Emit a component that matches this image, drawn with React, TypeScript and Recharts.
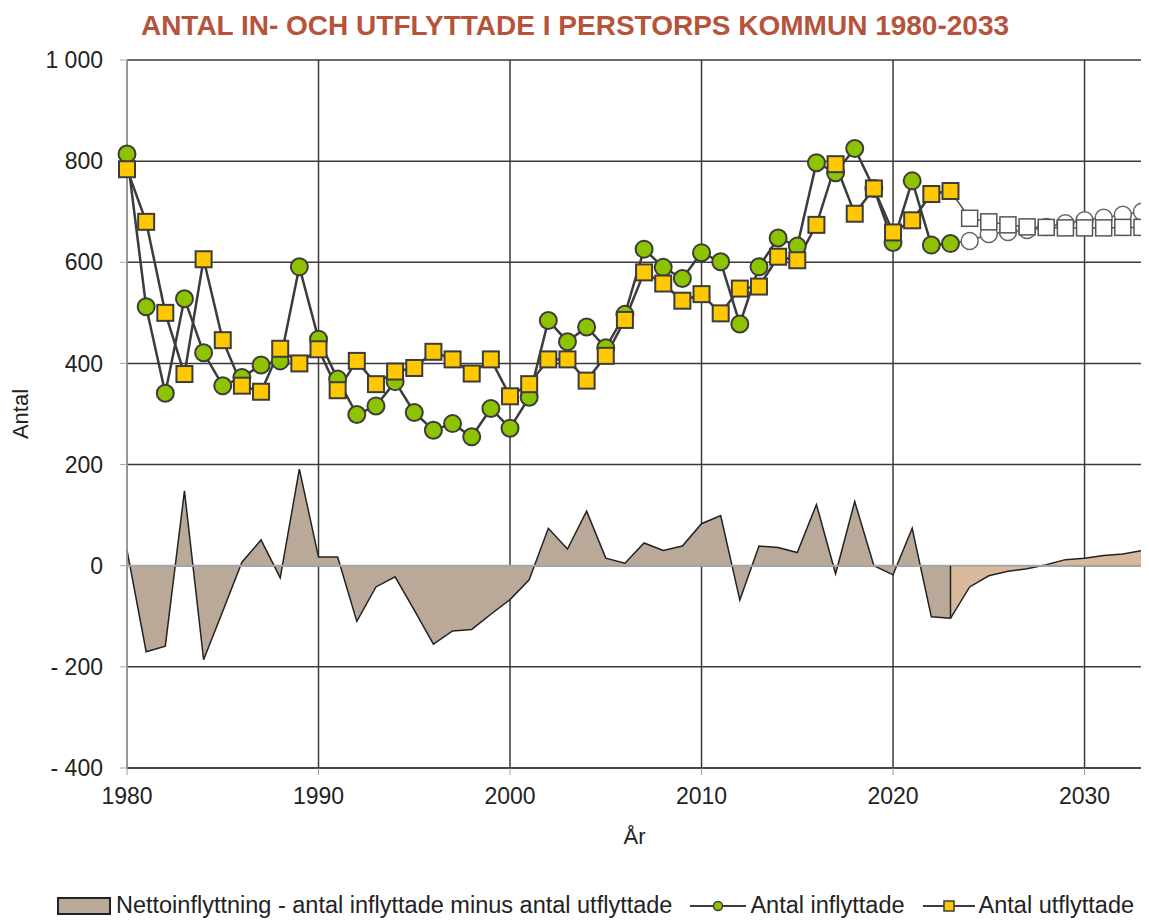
import {
  ComposedChart,
  Area,
  Line,
  XAxis,
  YAxis,
  CartesianGrid,
  ReferenceLine,
} from 'recharts';

const years = [
  1980, 1981, 1982, 1983, 1984, 1985, 1986, 1987, 1988, 1989,
  1990, 1991, 1992, 1993, 1994, 1995, 1996, 1997, 1998, 1999,
  2000, 2001, 2002, 2003, 2004, 2005, 2006, 2007, 2008, 2009,
  2010, 2011, 2012, 2013, 2014, 2015, 2016, 2017, 2018, 2019,
  2020, 2021, 2022, 2023, 2024, 2025, 2026, 2027, 2028, 2029,
  2030, 2031, 2032, 2033,
];

// Utfall 1980-2023
const inflyttade = [
  814, 512, 341, 528, 421, 356, 372, 397, 405, 591,
  448, 369, 299, 316, 364, 303, 268, 281, 255, 311,
  272, 333, 485, 443, 472, 431, 497, 626, 590, 568,
  619, 601, 478, 591, 648, 632, 797, 777, 825, 746,
  639, 761, 634, 637,
];
const utflyttade = [
  784, 680, 500, 379, 606, 446, 356, 344, 429, 400,
  428, 347, 405, 359, 384, 391, 423, 408, 380, 408,
  335, 359, 408, 408, 366, 415, 486, 580, 558, 524,
  537, 499, 548, 552, 611, 604, 674, 794, 696, 746,
  659, 683, 735, 741,
];
const netto = [
  31, -170, -159, 148, -186, -90, 7, 51, -24, 191,
  17, 17, -110, -42, -22, -88, -155, -129, -126, -96,
  -67, -28, 74, 33, 108, 15, 5, 45, 30, 39,
  83, 99, -68, 39, 36, 26, 121, -16, 127, 0,
  -18, 74, -101, -104,
];

// Prognos 2024-2033
const inflyttadeProg = [642, 656, 660, 664, 670, 677, 683, 688, 694, 700];
const utflyttadeProg = [687, 680, 674, 670, 669, 668, 668, 668, 669, 669];
const nettoProg = [-42, -20, -11, -6, 2, 12, 15, 20, 23, 30];

const xTicks = [1980, 1990, 2000, 2010, 2020, 2030];
const yTicks = [-400, -200, 0, 200, 400, 600, 800, 1000];

const lastHist = inflyttade.length - 1;
const lastHistYear = years[lastHist];

const rows = years.map((year, i) => {
  const p = i - inflyttade.length; // index in prognosis arrays
  const hist = i <= lastHist;
  return {
    year,
    infl: hist ? inflyttade[i] : null,
    utfl: hist ? utflyttade[i] : null,
    net: hist ? netto[i] : null,
    inflP: p >= 0 ? inflyttadeProg[p] : p === -1 ? inflyttade[i] : null,
    utflP: p >= 0 ? utflyttadeProg[p] : p === -1 ? utflyttade[i] : null,
    netP: p >= 0 ? nettoProg[p] : p === -1 ? netto[i] : null,
  };
});

const FONT = "'Liberation Sans', Arial, sans-serif";
const NARROW = "'Liberation Sans Narrow', 'Liberation Sans', Arial, sans-serif";
const GREEN = '#8DC300';
const GOLD = '#FFC800';
const EDGE = '#3c3c3c';
const GRID = '#3a3a3a';

const fmtY = (v: number) => {
  if (v === 1000) return '1 000';
  if (v < 0) return `- ${Math.abs(v)}`;
  return String(v);
};

function circleDot(fill: string, stroke: string, sw: number, prog: boolean) {
  return (props: any) => {
    const { cx, cy, payload, index } = props;
    if (cx == null || cy == null) return null;
    if (prog && payload && payload.year <= lastHistYear) return null;
    return <circle key={`c${index}`} cx={cx} cy={cy} r={8.5} fill={fill} stroke={stroke} strokeWidth={sw} />;
  };
}

function squareDot(fill: string, stroke: string, sw: number, prog: boolean) {
  return (props: any) => {
    const { cx, cy, payload, index } = props;
    if (cx == null || cy == null) return null;
    if (prog && payload && payload.year <= lastHistYear) return null;
    return (
      <rect key={`s${index}`} x={cx - 8} y={cy - 8} width={16} height={16} fill={fill} stroke={stroke} strokeWidth={sw} />
    );
  };
}

function LegendRow() {
  const item = { display: 'flex', alignItems: 'center' } as const;
  return (
    <div
      style={{
        position: 'absolute',
        top: 884,
        left: 17,
        width: 1141,
        display: 'flex',
        justifyContent: 'center',
        gap: 18,
        fontFamily: NARROW,
        fontSize: 23.5,
        color: '#222',
      }}
    >
      <div style={item}>
        <svg width={54} height={20} style={{ marginRight: 5 }}>
          <rect x={1} y={2} width={52} height={16} fill="#BAA999" stroke="#222" strokeWidth={2} />
        </svg>
        Nettoinflyttning - antal inflyttade minus antal utflyttade
      </div>
      <div style={item}>
        <svg width={56} height={20} style={{ marginRight: 4 }}>
          <line x1={0} y1={10} x2={56} y2={10} stroke={EDGE} strokeWidth={2} />
          <circle cx={28} cy={10} r={4.5} fill={GREEN} stroke={EDGE} strokeWidth={1.5} />
        </svg>
        Antal inflyttade
      </div>
      <div style={item}>
        <svg width={52} height={20} style={{ marginRight: 4 }}>
          <line x1={0} y1={10} x2={52} y2={10} stroke={EDGE} strokeWidth={2} />
          <rect x={21} y={5} width={10} height={10} fill={GOLD} stroke={EDGE} strokeWidth={1.5} />
        </svg>
        Antal utflyttade
      </div>
    </div>
  );
}

export default function App() {
  return (
    <div style={{ position: 'relative', width: 1141, height: 913, background: 'white' }}>
      <div
        style={{
          position: 'absolute',
          top: 1,
          left: 0,
          width: 1134,
          textAlign: 'center',
          fontFamily: NARROW,
          fontWeight: 'bold',
          fontSize: 28,
          lineHeight: '34px',
          color: '#B5533B',
        }}
      >
        ANTAL IN- OCH UTFLYTTADE I PERSTORPS KOMMUN 1980-2033
      </div>
      <div style={{ position: 'absolute', top: 0, left: 0 }}>
        <ComposedChart
          width={1141}
          height={860}
          data={rows}
          margin={{ top: 52, right: 7, bottom: 0, left: 0 }}
          style={{ fontFamily: FONT }}
        >
          <CartesianGrid stroke={GRID} strokeWidth={1.5} />
          <XAxis
            dataKey="year"
            type="number"
            domain={[1980, 2033]}
            ticks={xTicks}
            height={100}
            tickSize={7}
            tickMargin={13}
            axisLine={{ stroke: GRID, strokeWidth: 1.5 }}
            tickLine={{ stroke: '#999' }}
            tick={{ fill: '#222', fontSize: 23 }}
            label={{ value: 'År', position: 'insideBottom', offset: 24, fill: '#222', fontSize: 22 }}
          />
          <YAxis
            type="number"
            domain={[-400, 1000]}
            ticks={yTicks}
            width={119}
            tickSize={7}
            tickMargin={17}
            tickFormatter={fmtY}
            axisLine={{ stroke: '#A6A6A6', strokeWidth: 1.5 }}
            tickLine={{ stroke: '#A6A6A6' }}
            tick={{ fill: '#222', fontSize: 23 }}
            label={{
              value: 'Antal',
              angle: -90,
              position: 'insideLeft',
              offset: 12,
              fill: '#222',
              fontSize: 22,
              style: { textAnchor: 'middle' },
            }}
          />
          <Area
            dataKey="net"
            type="linear"
            fill="#BAA999"
            fillOpacity={1}
            stroke="#222"
            strokeWidth={1.5}
            isAnimationActive={false}
          />
          <Area
            dataKey="netP"
            type="linear"
            fill="#D9B99B"
            fillOpacity={1}
            stroke="#222"
            strokeWidth={1.5}
            isAnimationActive={false}
          />
          <ReferenceLine y={0} stroke="#A6A6A6" strokeWidth={2} />
          <ReferenceLine
            segment={[
              { x: lastHistYear, y: 0 },
              { x: lastHistYear, y: netto[lastHist] },
            ]}
            stroke="#222"
            strokeWidth={1.5}
          />
          <ReferenceLine x={2033} stroke={GRID} strokeWidth={1.5} />
          <Line
            dataKey="inflP"
            type="linear"
            stroke="#555"
            strokeWidth={1.5}
            dot={circleDot('#fff', '#666', 1.5, true)}
            isAnimationActive={false}
          />
          <Line
            dataKey="utflP"
            type="linear"
            stroke="#555"
            strokeWidth={1.5}
            dot={squareDot('#fff', '#555', 1.5, true)}
            isAnimationActive={false}
          />
          <Line
            dataKey="infl"
            type="linear"
            stroke={EDGE}
            strokeWidth={2.5}
            dot={circleDot(GREEN, EDGE, 2, false)}
            isAnimationActive={false}
          />
          <Line
            dataKey="utfl"
            type="linear"
            stroke={EDGE}
            strokeWidth={2.5}
            dot={squareDot(GOLD, EDGE, 2, false)}
            isAnimationActive={false}
          />
        </ComposedChart>
      </div>
      <LegendRow />
    </div>
  );
}
